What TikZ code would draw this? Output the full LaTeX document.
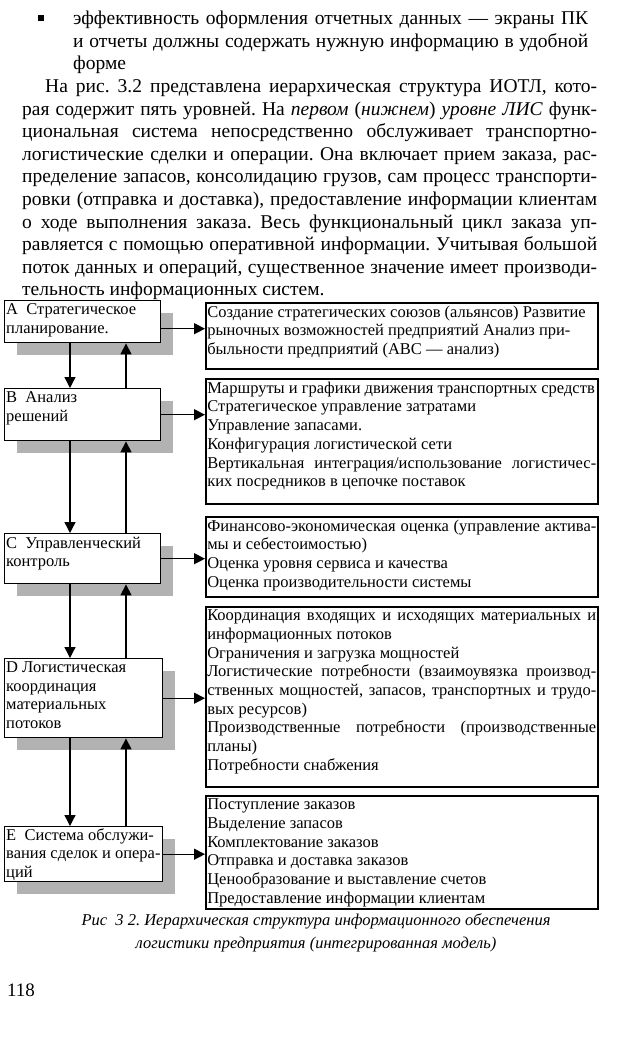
\documentclass[tikz,border=0pt]{standalone}
\usepackage{fontspec}
\setmainfont{Liberation Serif}
\usetikzlibrary{arrows.meta, shadows}
\hyphenpenalty=10000
\exhyphenpenalty=10000
\frenchspacing

\tikzset{
  bodytxt/.style={anchor=north west, inner sep=0pt, text width=575pt, align=justify,
    font=\fontsize{19.5}{22.6}\selectfont},
  lvl/.style={draw, line width=1.4pt, fill=white, anchor=north west, inner xsep=1.5pt, inner ysep=3pt,
    font=\fontsize{16.5}{18.7}\selectfont,
    drop shadow={shadow xshift=12pt, shadow yshift=-12pt, fill=gray!60, opacity=1}},
  inf/.style={draw, line width=1.6pt, fill=white, anchor=north west, inner xsep=1.5pt, inner ysep=3pt,
    font=\fontsize{16.5}{18.7}\selectfont},
  arr/.style={line width=1.3pt, -{Triangle[length=11pt,width=11pt]}},
  capt/.style={align=center, inner sep=0pt, font=\itshape\fontsize{16.5}{23}\selectfont}
}

\begin{document}
\begin{tikzpicture}[x=1pt, y=-1pt]
  \path[use as bounding box, fill=white] (0,0) rectangle (619,1047);

  % text above the figure
  \node[bodytxt] (body) at (22,11) {%
    \leftskip=51pt \rightskip=9pt
    \noindent\llap{\rule[4pt]{6pt}{6pt}\hspace{29pt}}эффективность оформления отчетных данных — экраны ПК\linebreak
    и отчеты должны содержать нужную информацию в удобной\linebreak
    форме\par
    \leftskip=0pt \rightskip=0pt
    \noindent\hspace*{23pt}На рис. 3.2 представлена иерархическая структура ИОТЛ, кото-\linebreak
    рая содержит пять уровней. На \textit{первом} (\textit{нижнем}) \textit{уровне ЛИС} функ-\linebreak
    циональная система непосредственно обслуживает транспортно-\linebreak
    логистические сделки и операции. Она включает прием заказа, рас-\linebreak
    пределение запасов, консолидацию грузов, сам процесс транспорти-\linebreak
    ровки (отправка и доставка), предоставление информации клиентам\linebreak
    о ходе выполнения заказа. Весь функциональный цикл заказа уп-\linebreak
    равляется с помощью оперативной информации. Учитывая большой\linebreak
    поток данных и операций, существенное значение имеет производи-\linebreak
    тельность информационных систем.\par};

  % levels (left column)
  \node[lvl] (lvlA) at (4,300) {\parbox[c][36pt][t]{153pt}{A\ \ Стратегическое\\ планирование.}};
  \node[lvl] (lvlB) at (4,388) {\parbox[c][46pt][t]{153pt}{B\ \ Анализ\\ решений}};
  \node[lvl] (lvlC) at (4,533) {\parbox[c][44pt][t]{153pt}{C\ \ Управленческий\\ контроль}};
  \node[lvl] (lvlD) at (4,658) {\parbox[c][73pt][t]{155pt}{D Логистическая\\ координация\\ материальных\\ потоков}};
  \node[lvl, inner ysep=1.5pt] (lvlE) at (4,826) {\parbox[c][52pt][t]{155pt}{E\ \ Система обслужи-\\ вания сделок и опера-\\ ций}};

  % information tasks (right column)
  \node[inf] (infA) at (205,302) {\parbox[c][60pt][t]{389pt}{%
    Создание стратегических союзов (альянсов) Развитие\\
    рыночных возможностей предприятий Анализ при-\\
    быльности предприятий (ABC — анализ)}};
  \node[inf] (infB) at (205,378) {\parbox[c][119pt][t]{389pt}{%
    Маршруты и графики движения транспортных средств\\
    Стратегическое управление затратами\\
    Управление запасами.\\
    Конфигурация логистической сети\\
    Вертикальная интеграция/использование логистичес-\linebreak
    ких посредников в цепочке поставок}};
  \node[inf] (infC) at (205,516) {\parbox[c][74pt][t]{389pt}{%
    Финансово-экономическая оценка (управление актива-\linebreak
    мы и себестоимостью)\\
    Оценка уровня сервиса и качества\\
    Оценка производительности системы}};
  \node[inf] (infD) at (205,606) {\parbox[c][174pt][t]{389pt}{%
    Координация входящих и исходящих материальных и\linebreak
    информационных потоков\\
    Ограничения и загрузка мощностей\\
    Логистические потребности (взаимоувязка производ-\linebreak
    ственных мощностей, запасов, транспортных и трудо-\linebreak
    вых ресурсов)\\
    Производственные потребности (производственные\linebreak
    планы)\\
    Потребности снабжения}};
  \node[inf] (infE) at (205,795) {\parbox[c][107pt][t]{389pt}{%
    Поступление заказов\\
    Выделение запасов\\
    Комплектование заказов\\
    Отправка и доставка заказов\\
    Ценообразование и выставление счетов\\
    Предоставление информации клиентам}};

  % arrows to the right
  \draw[arr] ([yshift=-7pt]lvlA.east) -- ([yshift=-7pt]lvlA.east -| infA.west);
  \foreach \n in {B,C,D,E}{
    \draw[arr] (lvl\n.east) -- (lvl\n.east -| inf\n.west);
  }

  % down and up links between levels
  \foreach \u/\l in {A/B,B/C,C/D,D/E}{
    \draw[arr] ([xshift=66pt]lvl\u.south west) -- ([xshift=66pt]lvl\l.north west);
    \draw[arr] ([xshift=122pt]lvl\l.north west) -- ([xshift=122pt]lvl\u.south west);
  }

  % caption and page number
  \node[capt] (cap) at (316,933) {Рис\ \ 3 2. Иерархическая структура информационного обеспечения\\
    логистики предприятия (интегрированная модель)};
  \node[anchor=west, inner sep=0pt, font=\fontsize{19}{22}\selectfont] (page) at (7,990) {118};
\end{tikzpicture}
\end{document}
